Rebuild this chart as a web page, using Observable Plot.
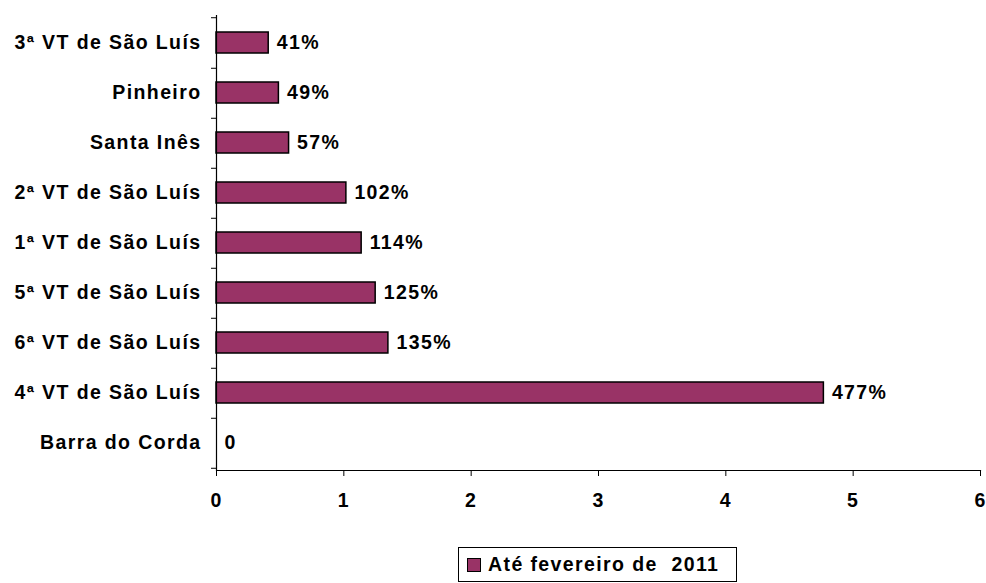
<!DOCTYPE html>
<html>
<head>
<meta charset="utf-8">
<script src="https://cdn.jsdelivr.net/npm/d3@7"></script>
<script src="https://cdn.jsdelivr.net/npm/@observablehq/plot@0.6"></script>
<style>
  html, body { margin: 0; padding: 0; background: #fff; }
  #wrap { position: relative; width: 986px; height: 583px; font-family: "Liberation Sans", Arial, sans-serif; }
  #wrap svg text { font-size: 19.5px; font-weight: bold; letter-spacing: 1.4px; fill: #000; }
  #legend { position: absolute; left: 458px; top: 547px; width: 277px; height: 33px; border: 1px solid #000;
    display: flex; align-items: center; font-size: 19.5px; font-weight: bold; letter-spacing: 1.4px; white-space: pre; background: #fff; }
  #legend .sw { display: inline-block; width: 12px; height: 12px; background: #993366; border: 1px solid #000; margin: 0 7px 0 8px; }
</style>
</head>
<body>
<div id="wrap"></div>
<script>
const categories = ["3ª VT de São Luís","Pinheiro","Santa Inês","2ª VT de São Luís","1ª VT de São Luís","5ª VT de São Luís","6ª VT de São Luís","4ª VT de São Luís","Barra do Corda"];
const values = [0.41, 0.49, 0.57, 1.02, 1.14, 1.25, 1.35, 4.77, 0];
const valueLabels = ["41%","49%","57%","102%","114%","125%","135%","477%","0"];
const xTicks = [0, 1, 2, 3, 4, 5, 6];
const seriesName = "Até fevereiro de  2011";
const barColor = "#993366";

const data = categories.map((name, i) => ({name, value: values[i], label: valueLabels[i]}));

const W = 986, H = 540, mt = 15, mb = 70;
const step = (H - mt - mb) / categories.length;

const chart = Plot.plot({
  width: W, height: H,
  marginLeft: 216, marginRight: 6, marginTop: mt, marginBottom: mb,
  style: {fontFamily: "'Liberation Sans', Arial, sans-serif", fontSize: "19.5px", fontWeight: "bold", color: "#000", background: "#fff", overflow: "visible"},
  x: {domain: [0, 6], label: null},
  y: {domain: categories, paddingInner: 0.58, paddingOuter: 0.29, label: null},
  marks: [
    Plot.barX(data.filter(d => d.value > 0), {x: "value", y: "name", fill: barColor, stroke: "#000", strokeWidth: 1.5}),
    Plot.text(data, {x: "value", y: "name", text: "label", textAnchor: "start", dx: 8}),
    Plot.axisX({ticks: xTicks, tickSize: 6, tickPadding: 17, tickFormat: d => String(d), label: null, stroke: "#000"}),
    Plot.axisY({tickSize: 0, tickPadding: 15, label: null}),
    Plot.axisY({tickSize: 5, tickFormat: () => "", dy: step / 2, label: null}),
    Plot.axisY({ticks: [categories[0]], tickSize: 5, tickFormat: () => "", dy: -step / 2, label: null}),
    Plot.ruleX([0], {stroke: "#000", strokeWidth: 1.2}),
    Plot.frame({anchor: "bottom", stroke: "#000", strokeWidth: 1.2})
  ]
});

const wrap = document.getElementById("wrap");
wrap.appendChild(chart);
const legend = document.createElement("div");
legend.id = "legend";
const sw = document.createElement("span");
sw.className = "sw";
legend.appendChild(sw);
legend.appendChild(document.createTextNode(seriesName));
wrap.appendChild(legend);
</script>
</body>
</html>
